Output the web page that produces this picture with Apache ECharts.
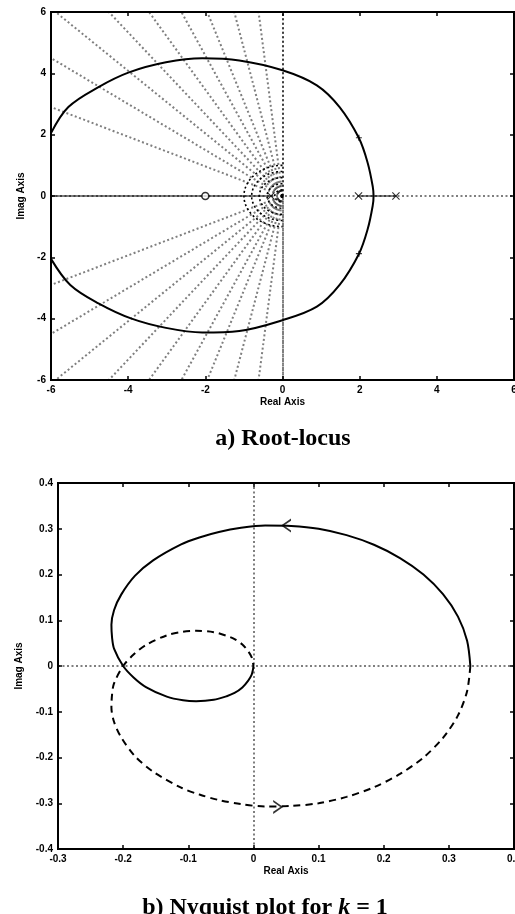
<!DOCTYPE html>
<html>
<head>
<meta charset="utf-8">
<script src="https://cdn.jsdelivr.net/npm/echarts@6/dist/echarts.min.js"></script>
<style>
  html, body { margin: 0; padding: 0; background: #fff; }
  #chart { width: 515px; height: 914px; }
</style>
</head>
<body>
<div id="chart"></div>
<script>
// ---------- a) Root locus ----------
// Ticks of the root-locus axes
const rlTicks = [-6, -4, -2, 0, 2, 4, 6];
// Complex branch of the locus, traced from the upper-left edge round to the lower-left edge
const locusBranch = [
  [-6.0, 2.05], [-5.55, 2.9], [-4.77, 3.55], [-3.98, 4.03], [-3.02, 4.36], [-2.08, 4.49],
  [-1.12, 4.42], [0.0, 4.1], [0.89, 3.61], [1.48, 2.9], [1.98, 1.89], [2.21, 1.07],
  [2.34, 0.3], [2.36, 0.0], [2.34, -0.3], [2.21, -1.07], [1.98, -1.89], [1.48, -2.9],
  [0.89, -3.61], [0.0, -4.05], [-1.12, -4.4], [-2.08, -4.45], [-3.02, -4.3],
  [-3.91, -4.0], [-4.77, -3.5], [-5.5, -2.9], [-6.0, -2.05]
];
// Real-axis segments of the locus
const realSegments = [[[-6, 0], [-0.25, 0]], [[1.97, 0], [2.94, 0]]];
// Open-loop poles and zero
const olPoles = [[1.97, 0], [2.94, 0], [-0.3, 0]];
const olZeros = [[-2, 0]];
// Closed-loop pole markers on the complex branch
const clPoles = [[1.98, 1.9], [1.98, -1.88]];
// Damping-ratio rays: where each constant-zeta line meets the frame (upper half)
const zetaRayEnds = [
  [0, 6], [-0.62, 6], [-1.25, 6], [-1.95, 6], [-2.62, 6], [-3.46, 6],
  [-4.5, 6], [-5.88, 6], [-6, 4.5], [-6, 2.9]
];
// Natural-frequency semicircles near the origin
const wnRadii = [0.2, 0.4, 0.6, 0.8, 1.0];

// ---------- b) Nyquist plot, k = 1 ----------
const nqXTicks = [-0.3, -0.2, -0.1, 0, 0.1, 0.2, 0.3, 0.4];
const nqYTicks = [-0.4, -0.3, -0.2, -0.1, 0, 0.1, 0.2, 0.3, 0.4];
// Positive-frequency branch (solid)
const nyqPos = [
  [0.333, 0.0], [0.328, 0.055], [0.314, 0.108], [0.291, 0.157], [0.261, 0.200],
  [0.225, 0.236], [0.185, 0.265], [0.143, 0.286], [0.100, 0.300], [0.058, 0.306],
  [0.018, 0.307], [-0.019, 0.302], [-0.053, 0.293], [-0.083, 0.281], [-0.111, 0.266],
  [-0.154, 0.231], [-0.182, 0.197], [-0.203, 0.156], [-0.214, 0.122], [-0.218, 0.090],
  [-0.217, 0.062], [-0.214, 0.038], [-0.200, 0.0], [-0.184, -0.025], [-0.165, -0.046],
  [-0.133, -0.067], [-0.108, -0.075], [-0.088, -0.077], [-0.061, -0.074],
  [-0.041, -0.066], [-0.029, -0.059], [-0.017, -0.047], [-0.008, -0.032],
  [-0.003, -0.020], [-0.001, -0.010], [0.0, 0.0]
];
// Negative-frequency branch (dashed)
const nyqNeg = [
  [0.333, 0.0], [0.328, -0.055], [0.314, -0.108], [0.291, -0.157], [0.261, -0.200],
  [0.225, -0.236], [0.185, -0.265], [0.143, -0.286], [0.100, -0.300], [0.058, -0.306],
  [0.018, -0.307], [-0.019, -0.302], [-0.053, -0.293], [-0.083, -0.281], [-0.111, -0.266],
  [-0.154, -0.231], [-0.182, -0.197], [-0.203, -0.156], [-0.214, -0.122], [-0.218, -0.090],
  [-0.217, -0.062], [-0.214, -0.038], [-0.200, 0.0], [-0.184, 0.025], [-0.165, 0.046],
  [-0.133, 0.067], [-0.108, 0.075], [-0.088, 0.077], [-0.061, 0.074],
  [-0.041, 0.066], [-0.029, 0.059], [-0.017, 0.047], [-0.008, 0.032],
  [-0.003, 0.020], [-0.001, 0.010], [0.0, 0.0]
];
// Direction arrows on each branch
const arrowPos = [[0.05, 0.307]];
const arrowNeg = [[0.038, -0.308]];

const BLACK = '#000';
const labelFont = { color: BLACK, fontFamily: 'Liberation Sans', fontWeight: 'bold', fontSize: 10 };
const nameFont = { color: BLACK, fontFamily: 'Liberation Sans', fontWeight: 'bold', fontSize: 10 };
const tick = { show: true, inside: true, length: 4, lineStyle: { color: BLACK, width: 1.5 } };
const dotted = { color: BLACK, width: 2, type: [2, 2.5] };

function xAxes(grid, ticks, gap) {
  const min = ticks[0], max = ticks[ticks.length - 1], interval = +(ticks[1] - ticks[0]).toFixed(6);
  const base = { gridIndex: grid, type: 'value', min, max, interval,
    axisLine: { show: false, onZero: false }, axisTick: tick, splitLine: { show: false } };
  return [
    Object.assign({}, base, { position: 'bottom', axisLabel: Object.assign({ margin: 5 }, labelFont),
      name: 'Real Axis', nameLocation: 'middle', nameGap: gap, nameTextStyle: nameFont }),
    Object.assign({}, base, { position: 'top', axisLabel: { show: false } })
  ];
}
function yAxes(grid, ticks, gap) {
  const min = ticks[0], max = ticks[ticks.length - 1], interval = +(ticks[1] - ticks[0]).toFixed(6);
  const base = { gridIndex: grid, type: 'value', min, max, interval,
    axisLine: { show: false, onZero: false }, axisTick: tick, splitLine: { show: false } };
  return [
    Object.assign({}, base, { position: 'left', axisLabel: Object.assign({ margin: 5 }, labelFont),
      name: 'Imag Axis', nameLocation: 'middle', nameGap: gap, nameTextStyle: nameFont }),
    Object.assign({}, base, { position: 'right', axisLabel: { show: false } })
  ];
}

const crossPath = 'path://M1,0 L5,4 L9,0 L10,1 L6,5 L10,9 L9,10 L5,6 L1,10 L0,9 L4,5 L0,1 Z';
const plusPath = 'path://M4,0 L6,0 L6,4 L10,4 L10,6 L6,6 L6,10 L4,10 L4,6 L0,6 L0,4 L4,4 Z';
const chevronLeft = 'path://M10,0 L0,6 L10,12 L10,10.2 L2.9,6 L10,1.8 Z';

const rayData = [];
zetaRayEnds.forEach(p => {
  rayData.push({ coords: [[0, 0], p] });
  rayData.push({ coords: [[0, 0], [p[0], -p[1]]] });
});

const titleFont = { color: BLACK, fontFamily: 'Liberation Serif', fontWeight: 'bold', fontSize: 24 };

const chart = echarts.init(document.getElementById('chart'), null, { renderer: 'canvas' });
chart.setOption({
  backgroundColor: '#fff',
  animation: false,
  title: [
    { text: 'a) Root-locus', left: 278, top: 422, textAlign: 'center', textStyle: titleFont },
    { text: '{n|b) Nyquist plot for }{i|k}{n| = 1}', left: 260, top: 891, textAlign: 'center',
      textStyle: { rich: {
        n: titleFont,
        i: Object.assign({}, titleFont, { fontStyle: 'italic' })
      } } }
  ],
  grid: [
    { left: 51, top: 12, width: 463, height: 368, show: true, borderColor: BLACK, borderWidth: 2,
      containLabel: false, outerBoundsMode: 'none' },
    { left: 58, top: 483, width: 456, height: 366, show: true, borderColor: BLACK, borderWidth: 2,
      containLabel: false, outerBoundsMode: 'none' }
  ],
  xAxis: [...xAxes(0, rlTicks, 17), ...xAxes(1, nqXTicks, 17)],
  yAxis: [...yAxes(0, rlTicks, 22), ...yAxes(1, nqYTicks, 34)],
  series: [
    // root-locus grid: axes through the origin
    { type: 'lines', coordinateSystem: 'cartesian2d', xAxisIndex: 0, yAxisIndex: 0, silent: true,
      data: [{ coords: [[0, -6], [0, 6]] }, { coords: [[-6, 0], [6, 0]] }], lineStyle: dotted, z: 1 },
    // damping-ratio rays
    { type: 'lines', coordinateSystem: 'cartesian2d', xAxisIndex: 0, yAxisIndex: 0, silent: true,
      data: rayData, lineStyle: dotted, z: 1 },
    // natural-frequency semicircles
    { type: 'custom', coordinateSystem: 'cartesian2d', xAxisIndex: 0, yAxisIndex: 0, silent: true,
      data: wnRadii.map(r => [r, 0]), encode: { x: 0, y: 1 }, z: 1,
      renderItem: function (params, api) {
        const r = api.value(0);
        const pts = [];
        for (let a = 90; a <= 270; a += 5) {
          const t = a * Math.PI / 180;
          pts.push(api.coord([r * Math.cos(t), r * Math.sin(t)]));
        }
        return { type: 'polyline', shape: { points: pts },
          style: { stroke: BLACK, lineWidth: 1.6, lineDash: [2, 2.5], fill: null } };
      } },
    // locus branches
    { type: 'line', xAxisIndex: 0, yAxisIndex: 0, data: locusBranch, smooth: 0.35, showSymbol: false,
      lineStyle: { color: BLACK, width: 2 }, silent: true, z: 3 },
    { type: 'lines', coordinateSystem: 'cartesian2d', xAxisIndex: 0, yAxisIndex: 0, silent: true,
      data: realSegments.map(s => ({ coords: s })), lineStyle: { color: BLACK, width: 2, type: 'solid' }, z: 3 },
    // open-loop poles (x) and zero (o)
    { type: 'scatter', xAxisIndex: 0, yAxisIndex: 0, data: olPoles, symbol: crossPath, symbolSize: 8,
      itemStyle: { color: BLACK }, silent: true, z: 4 },
    { type: 'scatter', xAxisIndex: 0, yAxisIndex: 0, data: olZeros, symbol: 'circle', symbolSize: 7,
      itemStyle: { color: '#fff', borderColor: BLACK, borderWidth: 1.6 }, silent: true, z: 4 },
    { type: 'scatter', xAxisIndex: 0, yAxisIndex: 0, data: clPoles, symbol: plusPath, symbolSize: 6,
      itemStyle: { color: BLACK }, silent: true, z: 4 },

    // Nyquist: dotted axes
    { type: 'lines', coordinateSystem: 'cartesian2d', xAxisIndex: 2, yAxisIndex: 2, silent: true,
      data: [{ coords: [[0, -0.4], [0, 0.4]] }, { coords: [[-0.3, 0], [0.4, 0]] }], lineStyle: dotted, z: 1 },
    { type: 'line', xAxisIndex: 2, yAxisIndex: 2, data: nyqPos, smooth: 0.3, showSymbol: false,
      lineStyle: { color: BLACK, width: 2 }, silent: true, z: 3 },
    { type: 'line', xAxisIndex: 2, yAxisIndex: 2, data: nyqNeg, smooth: 0.3, showSymbol: false,
      lineStyle: { color: BLACK, width: 2, type: [7, 5] }, silent: true, z: 3 },
    { type: 'scatter', xAxisIndex: 2, yAxisIndex: 2, data: arrowPos, symbol: chevronLeft, symbolSize: [10, 14],
      itemStyle: { color: BLACK }, silent: true, z: 4 },
    { type: 'scatter', xAxisIndex: 2, yAxisIndex: 2, data: arrowNeg, symbol: chevronLeft, symbolRotate: 180,
      symbolSize: [10, 14], itemStyle: { color: BLACK }, silent: true, z: 4 }
  ]
});
</script>
</body>
</html>
